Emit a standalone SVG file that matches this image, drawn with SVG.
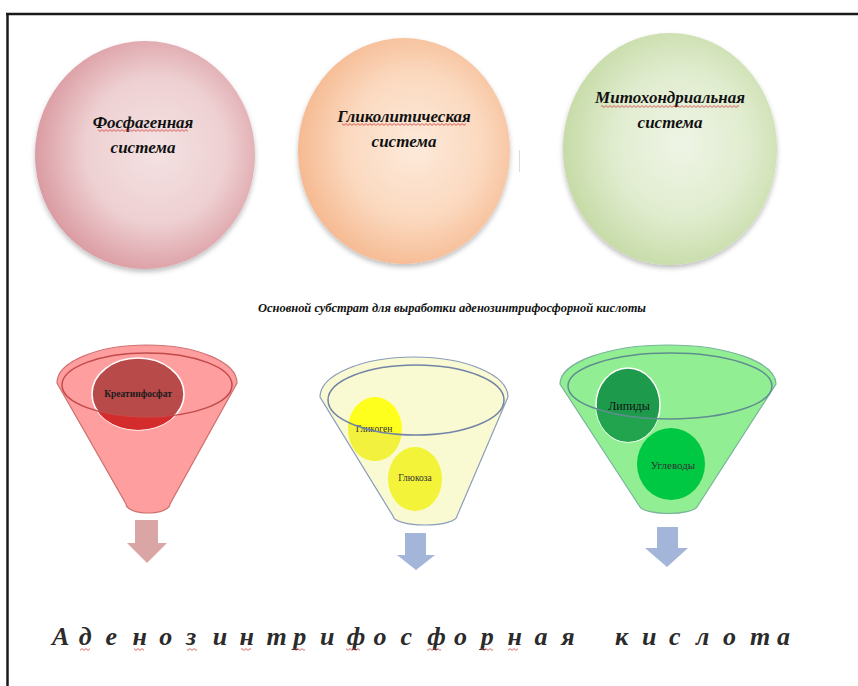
<svg xmlns="http://www.w3.org/2000/svg" width="858" height="686" viewBox="0 0 858 686">
<defs>
<style>
.h{font-family:"Liberation Serif","Times New Roman",serif;font-weight:bold;font-style:italic;font-size:17px;fill:#111;text-anchor:middle}
.sub{font-family:"Liberation Serif","Times New Roman",serif;font-weight:bold;font-style:italic;font-size:12px;fill:#111}
.big{font-family:"Liberation Serif","Times New Roman",serif;font-weight:bold;font-style:italic;font-size:26px;fill:#2b2b2b}
.lbl{font-family:"Liberation Serif","Times New Roman",serif;font-size:9.5px;fill:#333;text-anchor:middle}
.wv{fill:url(#wave)}
</style>
<pattern id="wave" x="0" y="0" width="4" height="3" patternUnits="userSpaceOnUse"><path d="M0,2.4 L2,0.6 L4,2.4" fill="none" stroke="#d23a3a" stroke-width="0.8"/></pattern>
<radialGradient id="gP" cx="55%" cy="48%" r="58%"><stop offset="0" stop-color="#f4e2e2"/><stop offset="0.55" stop-color="#eed0d2"/><stop offset="1" stop-color="#d8959c"/></radialGradient>
<radialGradient id="gO" cx="55%" cy="48%" r="58%"><stop offset="0" stop-color="#fdeadb"/><stop offset="0.55" stop-color="#fbd9bf"/><stop offset="1" stop-color="#f5b68c"/></radialGradient>
<radialGradient id="gG" cx="55%" cy="48%" r="58%"><stop offset="0" stop-color="#eff5e6"/><stop offset="0.55" stop-color="#e0ecce"/><stop offset="1" stop-color="#c3d9a2"/></radialGradient>
<filter id="sh" x="-10%" y="-10%" width="120%" height="125%"><feDropShadow dx="0" dy="3" stdDeviation="2.5" flood-color="#000" flood-opacity="0.25"/></filter>
<clipPath id="cK"><ellipse cx="138" cy="394" rx="46" ry="36"/></clipPath>
<clipPath id="cG"><ellipse cx="375" cy="429" rx="27" ry="32"/></clipPath>
<clipPath id="cL"><ellipse cx="628" cy="405" rx="32" ry="37"/></clipPath>
</defs>
<rect width="858" height="686" fill="#fff"/>

<!-- frame -->
<g id="frame" stroke="#1a1a1a" stroke-width="2.5" fill="none">
<line x1="6" y1="14" x2="858" y2="14"/>
<line x1="7.5" y1="13" x2="7.5" y2="686"/>
</g>

<!-- systems -->
<g id="phosphagen">
<ellipse cx="145" cy="155" rx="110" ry="114" fill="url(#gP)" filter="url(#sh)"/>
<text class="h" x="143" y="128">Фосфагенная</text>
<rect class="wv" x="98" y="129" width="90" height="3"/>
<text class="h" x="143" y="153">система</text>
</g>
<g id="glycolytic">
<ellipse cx="404" cy="151" rx="106" ry="113" fill="url(#gO)" filter="url(#sh)"/>
<text class="h" x="404" y="122">Гликолитическая</text>
<rect class="wv" x="342" y="123" width="124" height="3"/>
<text class="h" x="404" y="147">система</text>
<line x1="519.5" y1="150" x2="519.5" y2="172" stroke="#dcdcdc" stroke-width="1"/>
</g>
<g id="mitochondrial">
<ellipse cx="670" cy="149" rx="107" ry="116" fill="url(#gG)" filter="url(#sh)"/>
<text class="h" x="670" y="103">Митохондриальная</text>
<rect class="wv" x="601" y="105" width="138" height="3"/>
<text class="h" x="670" y="128">система</text>
</g>

<g id="subtitle">
<text class="sub" x="258" y="312" textLength="388" lengthAdjust="spacingAndGlyphs">Основной субстрат для выработки аденозинтрифосфорной кислоты</text>
</g>

<!-- funnel 1 -->
<g id="funnel-creatine">
<path d="M57,383 A90,38 0 0 1 237,383 L170,504 A22,9 0 0 1 126,504 Z" fill="#ff9e9e" stroke="#d07070" stroke-width="1.2"/>
<ellipse cx="138" cy="394" rx="46" ry="36" fill="#b94a4a" stroke="#fff" stroke-width="1.5"/>
<path clip-path="url(#cK)" fill="#d42c2c" fill-rule="evenodd" d="M0,300 H300 V600 H0 Z M62,385 A85,32 0 1 0 232,385 A85,32 0 1 0 62,385 Z"/>
<ellipse cx="147" cy="385" rx="85" ry="32" fill="none" stroke="#c24a4a" stroke-width="1.5"/>
<text class="lbl" x="138" y="397" style="font-weight:bold;fill:#1a1a1a">Креатинфосфат</text>
</g>

<!-- funnel 2 -->
<g id="funnel-glyco">
<path d="M320,397 A94,40 0 0 1 508,397 L457,516 A32,9 0 0 1 393,516 Z" fill="#fafad2" stroke="#8a9bbb" stroke-width="1.2"/>
<ellipse cx="375" cy="429" rx="27" ry="32" fill="#ffff1e"/>
<path clip-path="url(#cG)" fill="#f2f23e" fill-rule="evenodd" d="M250,300 H550 V600 H250 Z M328,400 A88,35 0 1 0 504,400 A88,35 0 1 0 328,400 Z"/>
<ellipse cx="415" cy="479" rx="27" ry="32" fill="#f3f33a"/>
<text class="lbl" x="374" y="432">Гликоген</text>
<ellipse cx="416" cy="400" rx="88" ry="35" fill="none" stroke="#7384a6" stroke-width="1.5"/>
<text class="lbl" x="415" y="481">Глюкоза</text>
</g>

<!-- funnel 3 -->
<g id="funnel-mito">
<path d="M560,384 A108,39 0 0 1 776,384 L697,507 A29,8 0 0 1 640,507 Z" fill="#92ee92" stroke="#78b49a" stroke-width="1.2"/>
<ellipse cx="628" cy="405" rx="32" ry="37" fill="#1e9a4c" stroke="#fff" stroke-width="1.5"/>
<path clip-path="url(#cL)" fill="#22a44e" fill-rule="evenodd" d="M500,300 H800 V600 H500 Z M568,386 A102,33 0 1 0 772,386 A102,33 0 1 0 568,386 Z"/>
<ellipse cx="671" cy="464" rx="34" ry="36" fill="#00c842"/>
<ellipse cx="670" cy="386" rx="102" ry="33" fill="none" stroke="#5e8e90" stroke-width="1.5"/>
<text class="lbl" x="629" y="410" style="font-size:12px;fill:#111">Липиды</text>
<text class="lbl" x="673" y="469" style="font-size:11px">Углеводы</text>
</g>

<!-- arrows -->
<g id="connectors">
<path d="M135,520 H158 V543 H167 L147,563 L127,543 H135 Z" fill="#d9a5a5"/>
<path d="M405,533 H426 V555 H435 L416,570 L397,555 H405 Z" fill="#a3b5d9"/>
<path d="M657,527 H678 V548 H688 L667,567 L645,548 H657 Z" fill="#a3b5d9"/>
</g>

<g id="result">
<text class="big"><tspan x="52 78.8 105.6 132.4 159.2 186 212.8 239.6 266.4 293.2 320 346.8 373.6 400.4 427.2 454 480.8 507.6 534.4 561.2" y="645">Аденозинтрифосфорная</tspan><tspan x="615 642 669 696 723 750 777" y="645">кислота</tspan></text>
<rect class="wv" x="80" y="648" width="10" height="3"/>
<rect class="wv" x="134" y="648" width="10" height="3"/>
<rect class="wv" x="187" y="648" width="10" height="3"/>
<rect class="wv" x="241" y="648" width="10" height="3"/>
<rect class="wv" x="293" y="648" width="12" height="3"/>
<rect class="wv" x="346" y="648" width="14" height="3"/>
<rect class="wv" x="427" y="648" width="14" height="3"/>
<rect class="wv" x="481" y="648" width="12" height="3"/>
<rect class="wv" x="508" y="648" width="10" height="3"/>
</g>
</svg>
